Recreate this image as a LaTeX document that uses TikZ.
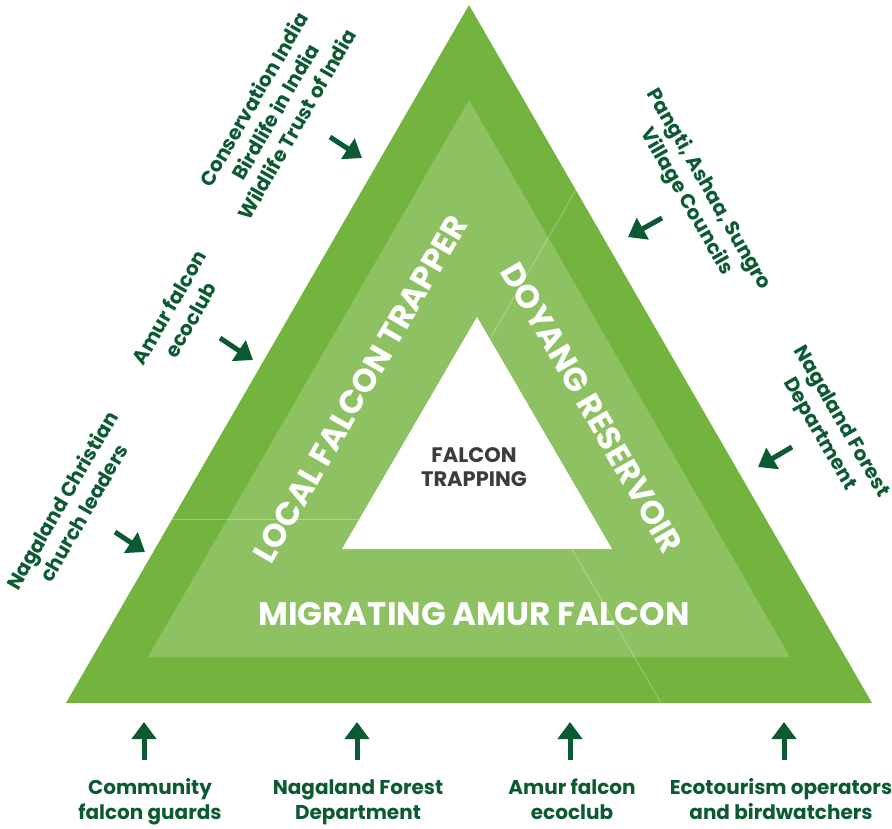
\documentclass[tikz,border=0pt]{standalone}
\usepackage{fontspec}
\setmainfont{Poppins}
\usetikzlibrary{arrows.meta}
\definecolor{bandDark}{HTML}{72B43E}
\definecolor{bandLight}{HTML}{8DC162}
\definecolor{textGreen}{HTML}{0B5A32}
\definecolor{coreGrey}{HTML}{3C3C3C}
\begin{document}
\begin{tikzpicture}[x=1pt,y=-1pt,
  lbl/.style={text=textGreen, font=\bfseries\fontsize{20}{25}\selectfont, align=center, inner sep=0pt},
  big/.style={text=white, font=\bfseries\fontsize{32.5}{36}\selectfont, inner sep=0pt},
  arr/.style={draw=textGreen, line width=5pt, -{Triangle[length=17pt,width=24pt]}},
  seam/.style={draw=white, draw opacity=0.3, line width=0.8pt}]
\useasboundingbox (0,0) rectangle (892,828);
% triangles
\coordinate (O1) at (469,5);   \coordinate (O2) at (66,703);  \coordinate (O3) at (872,703);
\coordinate (M1) at (469,100); \coordinate (M2) at (148,657); \coordinate (M3) at (790,657);
\coordinate (I1) at (477,317); \coordinate (I2) at (342,549); \coordinate (I3) at (612,549);
\fill[bandDark] (O1) -- (O2) -- (O3) -- cycle;
\fill[bandLight] (M1) -- (M2) -- (M3) -- cycle;
\fill[white] (I1) -- (I2) -- (I3) -- cycle;
% seams
\coordinate (s1a) at (172,519);   \coordinate (s1b) at (359.4,519);
\coordinate (s2a) at (575.8,190); \coordinate (s2b) at (489.8,339);
\coordinate (s3a) at (572,549);   \coordinate (s3b) at (661,703);
\draw[seam] (s1a) -- (s1b);
\draw[seam] (s2a) -- (s2b);
\draw[seam] (s3a) -- (s3b);
% band texts
\node[big] (mig) at (474,614) {MIGRATING AMUR FALCON};
\node[big, rotate=60] (loc) at (360,389) {LOCAL FALCON TRAPPER};
\node[big, rotate=-60] (doy) at (592,408) {DOYANG RESERVOIR};
\node[font=\bfseries\fontsize{21}{24}\selectfont, text=coreGrey, align=center, inner sep=0pt] (core) at (474,470) {\strut FALCON\\\strut TRAPPING};
% side labels
\node[lbl, rotate=60] (t1) at (277.5,113) {\strut Conservation India\\\strut Birdlife in India\\\strut Wildlife Trust of India};
\node[lbl, rotate=60] (t2) at (182,315) {\strut Amur falcon\\\strut ecoclub};
\node[lbl, rotate=60] (t3) at (75,508) {\strut Nagaland Christian\\\strut church leaders};
\node[lbl, rotate=-60] (t4) at (697,196) {\strut Pangti, Ashaa, Sungro\\\strut Village Councils};
\node[lbl, rotate=-60] (t5) at (830,428) {\strut Nagaland Forest\\\strut Department};
% bottom labels
\node[lbl] (b1) at (150,802) {\strut Community\\\strut falcon guards};
\node[lbl] (b2) at (358,802) {\strut Nagaland Forest\\\strut Department};
\node[lbl] (b3) at (572,802) {\strut Amur falcon\\\strut ecoclub};
\node[lbl] (b4) at (781,802) {\strut Ecotourism operators\\\strut and birdwatchers};
% arrows
\coordinate (a1s) at (330,137); \coordinate (a1e) at (362,158);
\coordinate (a2s) at (220,338); \coordinate (a2e) at (253,360);
\coordinate (a3s) at (115,532); \coordinate (a3e) at (145,552);
\coordinate (a4s) at (662,218); \coordinate (a4e) at (628,237);
\coordinate (a5s) at (792,447); \coordinate (a5e) at (758,467);
\draw[arr] (a1s) -- (a1e);
\draw[arr] (a2s) -- (a2e);
\draw[arr] (a3s) -- (a3e);
\draw[arr] (a4s) -- (a4e);
\draw[arr] (a5s) -- (a5e);
\foreach \i/\x in {1/144,2/357,3/570,4/784}{
  \coordinate (u\i s) at (\x,760); \coordinate (u\i e) at (\x,722);
  \draw[arr] (u\i s) -- (u\i e);
}
\end{tikzpicture}
\end{document}
